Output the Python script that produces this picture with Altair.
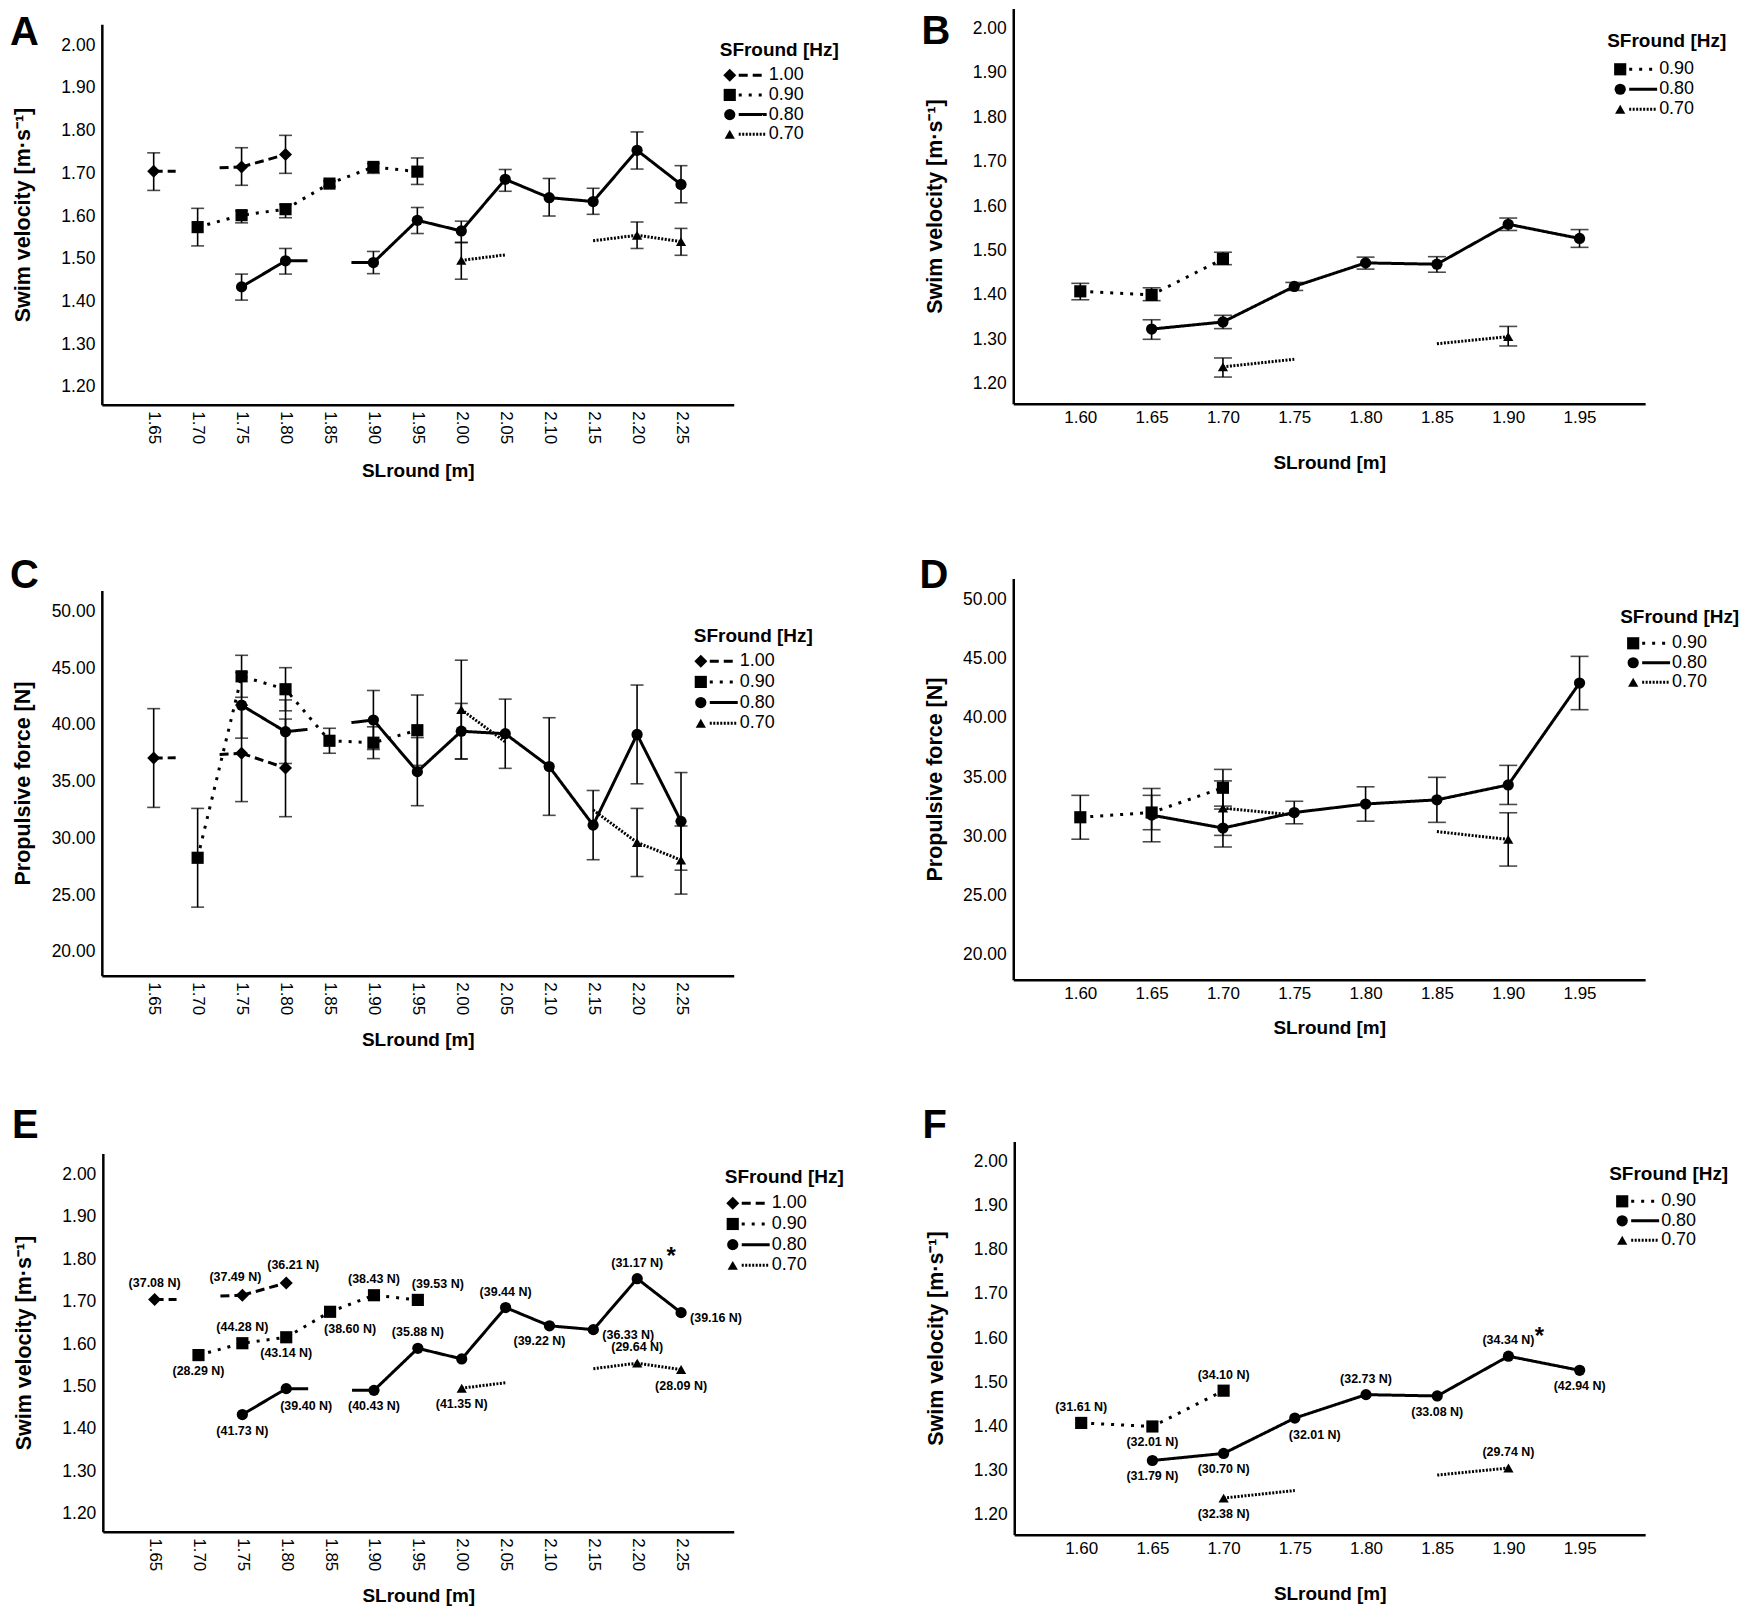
import altair as alt
import pandas as pd

FONT = "Liberation Sans, Arial, Helvetica, sans-serif"
M = 8                 # page margin: reference pixel -> view pixel
W, H = 1732, 1603

SERIES = ["1.00", "0.90", "0.80", "0.70"]

# ---------------- data ----------------
# A / E : swim velocity against SLround, 1.65-2.25 m
ae_ticks = [1.65, 1.70, 1.75, 1.80, 1.85, 1.90, 1.95, 2.00, 2.05, 2.10, 2.15, 2.20, 2.25]
ae_sl_100 = [1.65, 1.75, 1.80]
ae_v_100 = [1.705, 1.715, 1.744]
ae_v_100_lo = [1.660, 1.672, 1.700]
ae_v_100_hi = [1.748, 1.760, 1.789]
ae_sl_090 = [1.70, 1.75, 1.80, 1.85, 1.90, 1.95]
ae_v_090 = [1.574, 1.602, 1.616, 1.676, 1.715, 1.704]
ae_v_090_lo = [1.530, 1.584, 1.596, 1.669, 1.700, 1.674]
ae_v_090_hi = [1.618, 1.612, 1.627, 1.682, 1.723, 1.736]
ae_sl_080 = [1.75, 1.80, 1.90, 1.95, 2.00, 2.05, 2.10, 2.15, 2.20, 2.25]
ae_v_080 = [1.434, 1.495, 1.491, 1.590, 1.565, 1.686, 1.643, 1.634, 1.754, 1.674]
ae_v_080_lo = [1.403, 1.464, 1.465, 1.559, 1.538, 1.658, 1.600, 1.604, 1.710, 1.631]
ae_v_080_hi = [1.464, 1.524, 1.517, 1.620, 1.588, 1.709, 1.688, 1.665, 1.797, 1.718]
ae_sl_070 = [2.00, 2.20, 2.25]
ae_v_070 = [1.496, 1.555, 1.540]
ae_v_070_lo = [1.452, 1.524, 1.508]
ae_v_070_hi = [1.538, 1.586, 1.571]
# loose line ends next to gaps: (series, sl, value, sl, value)
ae_v_stubs = [("1.00", 1.65, 1.705, 1.675, 1.705), ("1.00", 1.725, 1.713, 1.75, 1.715),
              ("0.80", 1.80, 1.495, 1.825, 1.495), ("0.80", 1.875, 1.491, 1.90, 1.491),
              ("0.70", 2.00, 1.496, 2.05, 1.509), ("0.70", 2.15, 1.542, 2.20, 1.555)]

# C : propulsive force, same SL values as A
c_f_100 = [37.08, 37.49, 36.21]
c_f_100_lo = [32.73, 33.24, 31.91]
c_f_100_hi = [41.43, 41.74, 40.51]
c_f_090 = [28.29, 44.28, 43.14, 38.60, 38.43, 39.53]
c_f_090_lo = [23.94, 42.43, 41.24, 37.50, 37.03, 36.43]
c_f_090_hi = [32.64, 46.13, 45.04, 39.70, 39.83, 42.63]
c_f_080 = [41.73, 39.40, 40.43, 35.88, 39.44, 39.22, 36.33, 31.17, 39.16, 31.50]
c_f_080_lo = [38.83, 36.60, 37.83, 32.88, 36.99, 36.17, 32.03, 28.12, 34.81, 27.20]
c_f_080_hi = [44.63, 42.20, 43.03, 38.88, 41.89, 42.27, 40.63, 34.22, 43.51, 35.80]
c_f_070 = [41.35, 29.64, 28.09]
c_f_070_lo = [37.00, 26.64, 25.09]
c_f_070_hi = [45.70, 32.64, 31.09]
c_f_stubs = [("1.00", 1.65, 37.08, 1.675, 37.10), ("1.00", 1.725, 37.40, 1.75, 37.49),
             ("0.80", 1.80, 39.40, 1.825, 39.60), ("0.80", 1.875, 40.20, 1.90, 40.43),
             ("0.70", 2.00, 41.35, 2.05, 38.50), ("0.70", 2.15, 32.50, 2.20, 29.64)]

# B / F : swim velocity against SLround, 1.60-1.95 m
bf_ticks = [1.60, 1.65, 1.70, 1.75, 1.80, 1.85, 1.90, 1.95]
bf_sl_090 = [1.60, 1.65, 1.70]
bf_v_090 = [1.408, 1.400, 1.481]
bf_v_090_lo = [1.389, 1.387, 1.468]
bf_v_090_hi = [1.426, 1.416, 1.496]
bf_sl_080 = [1.65, 1.70, 1.75, 1.80, 1.85, 1.90, 1.95]
bf_v_080 = [1.323, 1.339, 1.419, 1.472, 1.469, 1.559, 1.527]
bf_v_080_lo = [1.300, 1.324, 1.410, 1.458, 1.451, 1.545, 1.507]
bf_v_080_hi = [1.344, 1.354, 1.428, 1.485, 1.486, 1.573, 1.547]
bf_sl_070 = [1.70, 1.90]
bf_v_070 = [1.238, 1.306]
bf_v_070_lo = [1.215, 1.285]
bf_v_070_hi = [1.258, 1.329]
bf_v_stubs = [("0.70", 1.70, 1.238, 1.75, 1.255), ("0.70", 1.85, 1.290, 1.90, 1.306)]

# D : propulsive force, same SL values as B
d_f_090 = [31.61, 32.01, 34.10]
d_f_090_lo = [29.76, 30.56, 32.55]
d_f_090_hi = [33.46, 33.46, 35.65]
d_f_080 = [31.79, 30.70, 32.01, 32.73, 33.08, 34.34, 42.94]
d_f_080_lo = [29.54, 29.10, 31.06, 31.28, 31.18, 32.69, 40.69]
d_f_080_hi = [34.04, 32.30, 32.96, 34.18, 34.98, 35.99, 45.19]
d_f_070 = [32.38, 29.74]
d_f_070_lo = [30.08, 27.49]
d_f_070_hi = [34.68, 31.99]
d_f_stubs = [("0.70", 1.70, 32.38, 1.75, 31.80), ("0.70", 1.85, 30.40, 1.90, 29.74)]

vel_ticks = [1.20, 1.30, 1.40, 1.50, 1.60, 1.70, 1.80, 1.90, 2.00]
force_ticks = [20, 25, 30, 35, 40, 45, 50]

# point labels of E and F
e_txt_100 = ["(37.08 N)", "(37.49 N)", "(36.21 N)"]
e_txt_090 = ["(28.29 N)", "(44.28 N)", "(43.14 N)", "(38.60 N)", "(38.43 N)", "(39.53 N)"]
e_txt_080 = ["(41.73 N)", "(39.40 N)", "(40.43 N)", "(35.88 N)", "", "(39.44 N)",
             "(39.22 N)", "(36.33 N)", "(31.17 N)", "(39.16 N)"]
e_txt_070 = ["(41.35 N)", "(29.64 N)", "(28.09 N)"]
f_txt_090 = ["(31.61 N)", "(32.01 N)", "(34.10 N)"]
f_txt_080 = ["(31.79 N)", "(30.70 N)", "(32.01 N)", "(32.73 N)", "(33.08 N)", "(34.34 N)", "(42.94 N)"]
f_txt_070 = ["(32.38 N)", "(29.74 N)"]
e_star = ("0.80", 2.20)
f_star = ("0.80", 1.90)

# ---------------- layout (reference pixels) ----------------
GEO = {
    "A": dict(x0=102, x1=735, yt=23, yb=404, tdy=66),
    "B": dict(x0=1015, x1=1648, yt=7, yb=403, tdy=59),
    "C": dict(x0=102, x1=735, yt=590, yb=976, tdy=64),
    "D": dict(x0=1015, x1=1648, yt=578, yb=980, tdy=48),
    "E": dict(x0=103, x1=735, yt=1154, yb=1533, tdy=64),
    "F": dict(x0=1016, x1=1648, yt=1142, yb=1536, tdy=59),
}
LEGEND = {
    "A": dict(tx=721, ty=49, y0=74, dy=19.7, mx=731, n=4),
    "B": dict(tx=1610, ty=40, y0=68, dy=20, mx=1623, n=3),
    "C": dict(tx=695, ty=636, y0=661, dy=20.7, mx=702, n=4),
    "D": dict(tx=1623, ty=617, y0=643, dy=19.5, mx=1636, n=3),
    "E": dict(tx=726, ty=1178, y0=1204, dy=20.7, mx=734, n=4),
    "F": dict(tx=1612, ty=1175, y0=1202, dy=19.5, mx=1625, n=3),
}
LETTERS = [("A", 10, 44), ("B", 923, 43), ("C", 10, 588), ("D", 921, 588),
           ("E", 12, 1139), ("F", 924, 1139)]
e_place_100 = ["a", "al", "ar1"]
e_place_090 = ["b", "a", "b", "br", "a", "ar"]
e_place_080 = ["b", "br", "b", "a", "", "a", "bl", "r", "a", "r"]
e_place_070 = ["b", "a", "b"]
f_place_090 = ["a", "b", "a"]
f_place_080 = ["b", "b", "br", "a", "b", "a", "b"]
f_place_070 = ["b", "a"]
PLACE = {"a": (0, -16), "b": (0, 16), "ar": (20, -16), "br": (20, 17), "bl": (-10, 15),
         "r": (35, 5), "al": (-7, -18), "ar1": (7, -18)}

DASH = alt.Scale(domain=SERIES, range=[[9, 5], [3, 7], [1, 0], [2, 1.5]])
SHAPE = alt.Scale(domain=SERIES, range=["diamond", "square", "circle", "triangle-up"])
SIZE = alt.Scale(domain=SERIES, range=[170, 105, 110, 105])
PIX_X = alt.Scale(domain=[0, W], range=[0, W], nice=False, zero=False)
PIX_Y = alt.Scale(domain=[0, H], range=[0, H], nice=False, zero=False)


def line_rows(sf, xs, ys, stubs):
    rows, seg = [], 0
    for i in range(len(xs)):
        if i and xs[i] - xs[i - 1] > 0.051:
            seg += 1
        rows.append(dict(sf=sf, seg=f"{sf}-{seg}", sl=xs[i], v=ys[i]))
    for k, (s, xa, ya, xb, yb) in enumerate(stubs):
        if s == sf:
            rows.append(dict(sf=sf, seg=f"{sf}-s{k}", sl=xa, v=ya))
            rows.append(dict(sf=sf, seg=f"{sf}-s{k}", sl=xb, v=yb))
    return rows


def panel(key, blocks, stubs, xdom, xticks, ydom, yticks, ytitle, rotate,
          cap=None, labels=None, star=None):
    g = GEO[key]
    xsc = alt.Scale(domain=xdom, range=[g["x0"] - M, g["x1"] - M], nice=False, zero=False)
    ysc = alt.Scale(domain=ydom, range=[g["yb"] - M, g["yt"] - M], nice=False, zero=False)
    xax = alt.Axis(orient="bottom", offset=g["yb"] - M - H, values=xticks, format=".2f",
                   labelAngle=90 if rotate else 0, labelPadding=6, ticks=False, grid=False,
                   domainColor="black", domainWidth=2.5, labelFont=FONT, labelFontSize=17,
                   labelColor="black", labelOverlap=False, labelFlush=False,
                   title="SLround [m]", titleFont=FONT, titleFontSize=19,
                   titleFontWeight="bold", titleColor="black", titleBaseline="middle",
                   titleY=g["tdy"])
    yax = alt.Axis(orient="left", offset=-(g["x0"] - M), values=yticks, format=".2f",
                   ticks=False, grid=False, domainColor="black", domainWidth=2.5,
                   labelFont=FONT, labelFontSize=17.5, labelColor="black", labelPadding=7,
                   labelOverlap=False, labelFlush=False, title=ytitle, titleFont=FONT,
                   titleFontSize=21.5, titleFontWeight="bold", titleColor="black",
                   titleX=-78, titleBaseline="middle")

    rows, lrows = [], []
    for b in blocks:
        sf, xs, ys, lo, hi = b[:5]
        txt = labels[sf][0] if labels and sf in labels else [""] * len(xs)
        pl = labels[sf][1] if labels and sf in labels else [""] * len(xs)
        for i in range(len(xs)):
            rows.append(dict(sf=sf, sl=xs[i], v=ys[i], lo=lo[i], hi=hi[i], txt=txt[i], pl=pl[i]))
        lrows += line_rows(sf, xs, ys, stubs)
    pts = pd.DataFrame(rows)
    lines_df = pd.DataFrame(lrows)

    X = alt.X("sl:Q", scale=xsc, axis=None)
    Y = alt.Y("v:Q", scale=ysc, axis=None)
    layers = []
    if cap:
        layers.append(alt.Chart(pts).mark_rule(color="black", strokeWidth=1.6).encode(
            x=X, y=alt.Y("lo:Q", scale=ysc, axis=None), y2="hi:Q"))
        caps = pts[["sf", "sl", "lo", "hi"]].melt(id_vars=["sf", "sl"], value_name="cy")
        layers.append(alt.Chart(caps).mark_tick(orient="horizontal", color="black",
                                                thickness=1.6, size=cap).encode(
            x=X, y=alt.Y("cy:Q", scale=ysc, axis=None)))
    layers.append(alt.Chart(lines_df).mark_line(color="black", strokeWidth=3).encode(
        x=alt.X("sl:Q", scale=xsc, axis=xax), y=alt.Y("v:Q", scale=ysc, axis=yax),
        detail="seg:N", strokeDash=alt.StrokeDash("sf:N", scale=DASH, legend=None)))
    layers.append(alt.Chart(pts).mark_point(filled=True, opacity=1, color="black").encode(
        x=X, y=Y, shape=alt.Shape("sf:N", scale=SHAPE, legend=None),
        size=alt.Size("sf:N", scale=SIZE, legend=None)))
    if labels:
        for code, (dx, dy) in PLACE.items():
            sub = pts[(pts.pl == code) & (pts.txt != "")]
            if len(sub):
                layers.append(alt.Chart(sub).mark_text(
                    dx=dx, dy=dy, font=FONT, fontSize=12.5, fontWeight="bold", color="black",
                    baseline="middle").encode(x=X, y=Y, text="txt:N"))
    if star:
        st = pts[(pts.sf == star[0]) & ((pts.sl - star[1]).abs() < 1e-6)]
        layers.append(alt.Chart(st).mark_text(
            text="*", dx=star[2], dy=star[3], font=FONT, fontSize=24, fontWeight="bold",
            color="black", baseline="middle").encode(x=X, y=Y))
    return layers


VEL = "Swim velocity  [m·s⁻¹]"
FORCE = "Propulsive force [N]"
ae_dom, bf_dom = [1.591, 2.31], [1.553, 1.996]

blocks_A = [("1.00", ae_sl_100, ae_v_100, ae_v_100_lo, ae_v_100_hi),
            ("0.90", ae_sl_090, ae_v_090, ae_v_090_lo, ae_v_090_hi),
            ("0.80", ae_sl_080, ae_v_080, ae_v_080_lo, ae_v_080_hi),
            ("0.70", ae_sl_070, ae_v_070, ae_v_070_lo, ae_v_070_hi)]
blocks_C = [("1.00", ae_sl_100, c_f_100, c_f_100_lo, c_f_100_hi),
            ("0.90", ae_sl_090, c_f_090, c_f_090_lo, c_f_090_hi),
            ("0.80", ae_sl_080, c_f_080, c_f_080_lo, c_f_080_hi),
            ("0.70", ae_sl_070, c_f_070, c_f_070_lo, c_f_070_hi)]
blocks_B = [("0.90", bf_sl_090, bf_v_090, bf_v_090_lo, bf_v_090_hi),
            ("0.80", bf_sl_080, bf_v_080, bf_v_080_lo, bf_v_080_hi),
            ("0.70", bf_sl_070, bf_v_070, bf_v_070_lo, bf_v_070_hi)]
blocks_D = [("0.90", bf_sl_090, d_f_090, d_f_090_lo, d_f_090_hi),
            ("0.80", bf_sl_080, d_f_080, d_f_080_lo, d_f_080_hi),
            ("0.70", bf_sl_070, d_f_070, d_f_070_lo, d_f_070_hi)]
labels_E = {"1.00": (e_txt_100, e_place_100), "0.90": (e_txt_090, e_place_090),
            "0.80": (e_txt_080, e_place_080), "0.70": (e_txt_070, e_place_070)}
labels_F = {"0.90": (f_txt_090, f_place_090), "0.80": (f_txt_080, f_place_080),
            "0.70": (f_txt_070, f_place_070)}

layers = []
layers += panel("A", blocks_A, ae_v_stubs, ae_dom, ae_ticks, [1.158, 2.049], vel_ticks, VEL, True, cap=13)
layers += panel("B", blocks_B, bf_v_stubs, bf_dom, bf_ticks, [1.155, 2.045], vel_ticks, VEL, False, cap=18)
layers += panel("C", blocks_C, c_f_stubs, ae_dom, ae_ticks, [17.9, 51.85], force_ticks, FORCE, True, cap=13)
layers += panel("D", blocks_D, d_f_stubs, bf_dom, bf_ticks, [17.9, 51.77], force_ticks, FORCE, False, cap=18)
layers += panel("E", blocks_A, ae_v_stubs, ae_dom, ae_ticks, [1.158, 2.049], vel_ticks, VEL, True,
                labels=labels_E, star=(e_star[0], e_star[1], 34, -22))
layers += panel("F", blocks_B, bf_v_stubs, bf_dom, bf_ticks, [1.155, 2.045], vel_ticks, VEL, False,
                labels=labels_F, star=(f_star[0], f_star[1], 31, -19))

# hand-drawn SPSS style legends and panel letters, placed in page pixels
leg_rows, leg_titles = [], []
for key, L in LEGEND.items():
    for i, sf in enumerate(SERIES[4 - L["n"]:]):
        y = L["y0"] + i * L["dy"] - M
        leg_rows.append(dict(sf=sf, mx=L["mx"] - M, lx0=L["mx"] + 9 - M, lx1=L["mx"] + 37 - M,
                             tx=L["mx"] + 39 - M, y=y))
    leg_titles.append(dict(tx=L["tx"] - M, y=L["ty"] - M, t="SFround [Hz]"))
leg = pd.DataFrame(leg_rows)
leg_t = pd.DataFrame(leg_titles)
lets = pd.DataFrame([dict(t=t, x=x - M, y=y - M) for t, x, y in LETTERS])
PY = alt.Y("y:Q", scale=PIX_Y, axis=None)

layers.append(alt.Chart(leg).mark_rule(color="black", strokeWidth=3).encode(
    x=alt.X("lx0:Q", scale=PIX_X, axis=None), x2="lx1:Q", y=PY,
    strokeDash=alt.StrokeDash("sf:N", scale=DASH, legend=None)))
layers.append(alt.Chart(leg).mark_point(filled=True, opacity=1, color="black").encode(
    x=alt.X("mx:Q", scale=PIX_X, axis=None), y=PY,
    shape=alt.Shape("sf:N", scale=SHAPE, legend=None),
    size=alt.Size("sf:N", scale=alt.Scale(domain=SERIES, range=[110, 75, 80, 80]), legend=None)))
layers.append(alt.Chart(leg).mark_text(align="left", baseline="middle", font=FONT, fontSize=18,
                                       color="black").encode(
    x=alt.X("tx:Q", scale=PIX_X, axis=None), y=PY, text="sf:N"))
layers.append(alt.Chart(leg_t).mark_text(align="left", baseline="middle", font=FONT, fontSize=19,
                                         fontWeight="bold", color="black").encode(
    x=alt.X("tx:Q", scale=PIX_X, axis=None), y=PY, text="t:N"))
layers.append(alt.Chart(lets).mark_text(align="left", baseline="alphabetic", font=FONT, fontSize=40,
                                        fontWeight="bold", color="black").encode(
    x=alt.X("x:Q", scale=PIX_X, axis=None), y=PY, text="t:N"))

chart = (
    alt.layer(*layers)
    .resolve_scale(x="independent", y="independent")
    .properties(width=W, height=H, padding=0)
    .configure_view(strokeWidth=0)
)
chart.save("out.html", embed_options={"renderer": "svg", "actions": False})
